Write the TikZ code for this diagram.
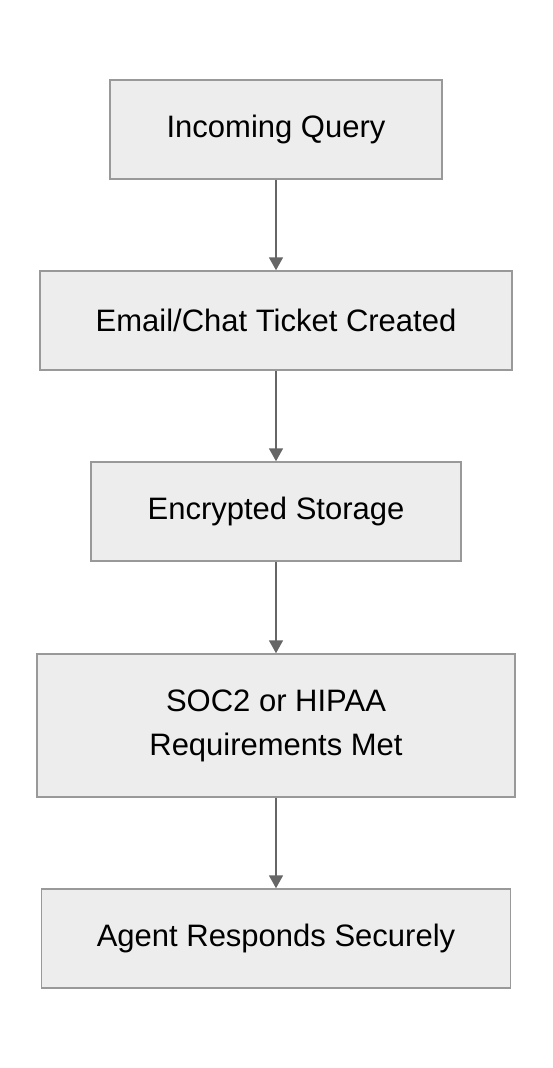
\documentclass[tikz,border=0pt]{standalone}
\usepackage{fontspec}
\setmainfont{Liberation Sans}
\usetikzlibrary{arrows.meta}
\begin{document}
\begin{tikzpicture}[x=1pt,y=-1pt,
  box/.style={draw=black!40,fill=black!7,line width=1.5pt,rectangle,inner sep=0pt,align=center,font=\fontsize{31}{44}\selectfont},
  conn/.style={draw=black!60,line width=1.8pt,-{Triangle[width=14pt,length=13pt]}}]
\useasboundingbox (0,0) rectangle (552,1068);
\node[box,minimum width=332pt,minimum height=99pt] (a) at (276,129.5) {Incoming Query};
\node[box,minimum width=472pt,minimum height=99pt] (b) at (276,320.5) {Email/Chat Ticket Created};
\node[box,minimum width=370pt,minimum height=99pt] (c) at (276,511.5) {Encrypted Storage};
\node[box,minimum width=478pt,minimum height=143pt] (d) at (276,725.5) {SOC2 or HIPAA\\Requirements Met};
\node[box,minimum width=469pt,minimum height=99pt] (e) at (276,938.5) {Agent Responds Securely};
\draw[conn] (a) -- (b);
\draw[conn] (b) -- (c);
\draw[conn] (c) -- (d);
\draw[conn] (d) -- (e);
\end{tikzpicture}
\end{document}
